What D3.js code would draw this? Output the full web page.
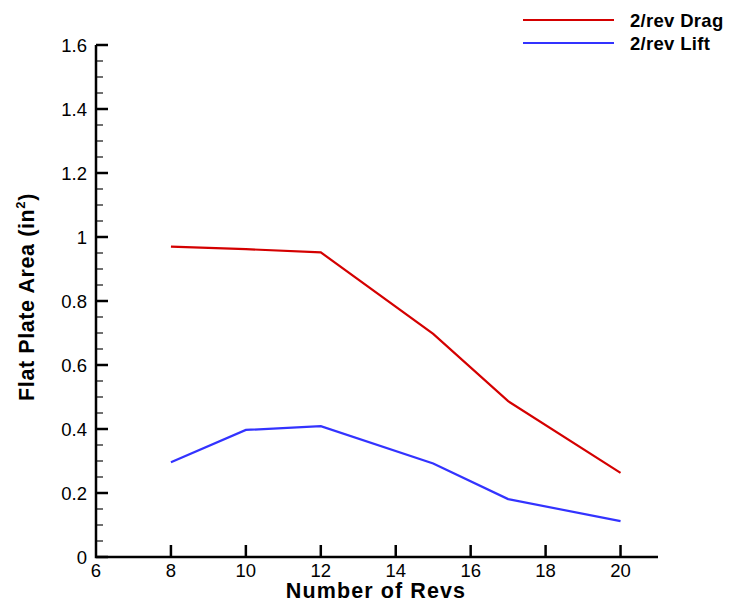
<!DOCTYPE html>
<html>
<head>
<meta charset="utf-8">
<script src="https://cdn.jsdelivr.net/npm/d3@7"></script>
<style>
  html, body { margin: 0; padding: 0; background: #fff; }
  svg { display: block; font-family: "Liberation Sans", Arial, sans-serif; }
</style>
</head>
<body>
<svg id="chart" width="732" height="611"></svg>
<script>
// Number of revs sampled
const revs = [8, 10, 12, 15, 17, 20];
// Flat plate area (in^2) per series
const dragValues = [0.970, 0.962, 0.952, 0.697, 0.487, 0.263];
const liftValues = [0.296, 0.397, 0.409, 0.292, 0.181, 0.112];
const seriesNames = ["2/rev Drag", "2/rev Lift"];
const seriesColors = ["#d40000", "#3333ff"];
const xTicks = [6, 8, 10, 12, 14, 16, 18, 20];
const yTicks = [0, 0.2, 0.4, 0.6, 0.8, 1, 1.2, 1.4, 1.6];

const svg = d3.select("#chart");
const x = d3.scaleLinear().domain([6, 21]).range([96, 658]);
const y = d3.scaleLinear().domain([0, 1.6]).range([557, 45]);

const series = [dragValues, liftValues].map((vals, i) => ({
  name: seriesNames[i], color: seriesColors[i],
  points: revs.map((r, j) => [r, vals[j]])
}));

// Y axis: major ticks inward, plus minor ticks every 0.05
const minor = d3.range(0, 1.6001, 0.05).filter(v => Math.abs(v * 5 - Math.round(v * 5)) > 1e-6);
svg.append("g").selectAll("line").data(minor).join("line")
  .attr("x1", x(6)).attr("x2", x(6) + 7)
  .attr("y1", d => y(d)).attr("y2", d => y(d))
  .attr("stroke", "#222").attr("stroke-width", 1.3);
svg.append("g").selectAll("line").data(yTicks).join("line")
  .attr("x1", x(6)).attr("x2", x(6) + 12)
  .attr("y1", d => y(d)).attr("y2", d => y(d))
  .attr("stroke", "#000").attr("stroke-width", 2.5);
svg.append("g").selectAll("text").data(yTicks).join("text")
  .attr("x", x(6) - 9).attr("y", d => y(d)).attr("dy", "0.36em")
  .attr("text-anchor", "end").attr("font-size", 18.5)
  .text(d => d3.format("~g")(d));

// X axis: major ticks upward
svg.append("g").selectAll("line").data(xTicks.filter(d => d !== 6)).join("line")
  .attr("x1", d => x(d)).attr("x2", d => x(d))
  .attr("y1", y(0)).attr("y2", y(0) - 12)
  .attr("stroke", "#000").attr("stroke-width", 2.5);
svg.append("g").selectAll("text").data(xTicks).join("text")
  .attr("x", d => x(d)).attr("y", 577)
  .attr("text-anchor", "middle").attr("font-size", 18.5)
  .text(d => d);

// Axis lines
svg.append("path")
  .attr("d", `M${x(6)},${y(1.6)}V${y(0)}H${x(21)}`)
  .attr("fill", "none").attr("stroke", "#000").attr("stroke-width", 2.5);

// Series lines
const line = d3.line().x(d => x(d[0])).y(d => y(d[1]));
svg.append("g").selectAll("path").data(series).join("path")
  .attr("d", d => line(d.points))
  .attr("fill", "none").attr("stroke", d => d.color).attr("stroke-width", 2.2);

// Axis titles
svg.append("text")
  .attr("x", 376).attr("y", 598)
  .attr("text-anchor", "middle").attr("font-size", 21.5).attr("font-weight", "bold")
  .attr("letter-spacing", 1.1)
  .text("Number of Revs");
const yt = svg.append("text")
  .attr("transform", "translate(34,297) rotate(-90)")
  .attr("text-anchor", "middle").attr("font-size", 21.5).attr("font-weight", "bold")
  .attr("letter-spacing", 0.6);
yt.append("tspan").text("Flat Plate Area (in");
yt.append("tspan").attr("font-size", 13).attr("dy", -9).text("2");
yt.append("tspan").attr("dy", 9).text(")");

// Legend
const leg = svg.append("g").selectAll("g").data(series).join("g")
  .attr("transform", (d, i) => `translate(0,${20 + i * 23})`);
leg.append("line").attr("x1", 523).attr("x2", 614)
  .attr("stroke", d => d.color).attr("stroke-width", 2.2);
leg.append("text").attr("x", 630).attr("y", 7)
  .attr("font-size", 18.5).attr("font-weight", "bold").attr("letter-spacing", 0.3)
  .text(d => d.name);
</script>
</body>
</html>
